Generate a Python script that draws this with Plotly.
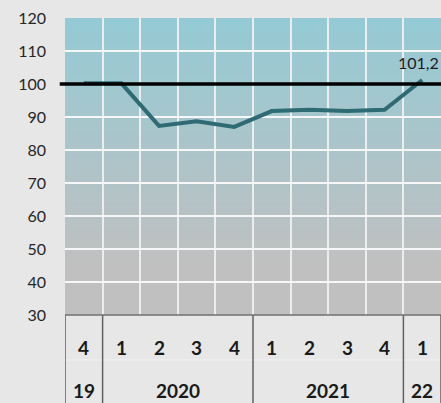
import plotly.graph_objects as go

# ---- data ----
quarters = ["4", "1", "2", "3", "4", "1", "2", "3", "4", "1"]
years = ["19", "2020", "2020", "2020", "2020", "2021", "2021", "2021", "2021", "22"]
values = [100.2, 100.2, 87.3, 88.7, 87.0, 91.8, 92.2, 91.8, 92.2, 101.2]
last_label = "101,2"
reference_level = 100
y_ticks = [30, 40, 50, 60, 70, 80, 90, 100, 110, 120]

cats = [f"{y} Q{q}" for y, q in zip(years, quarters)]
n = len(cats)

FONT = "Lato"
BG = "#E7E7E7"

fig = go.Figure()
fig.add_trace(go.Scatter(
    x=cats, y=values, mode="lines",
    line=dict(color="#2E6B74", width=4),
    hoverinfo="skip", showlegend=False,
))

shapes = []
# vertical gradient background of plot area
top_c = (148, 202, 213)
bot_c = (192, 192, 192)
y_lo, y_hi = 30, 120
g_end = 45
step = 1
yv = y_lo
while yv < y_hi:
    mid = yv + step / 2
    t = 0 if mid <= g_end else (mid - g_end) / (y_hi - g_end)
    c = tuple(round(b + (a - b) * t) for a, b in zip(top_c, bot_c))
    shapes.append(dict(type="rect", xref="paper", yref="y", x0=0, x1=1,
                       y0=yv, y1=min(yv + step * 2, y_hi), fillcolor=f"rgb{c}",
                       line=dict(width=0), layer="below"))
    yv += step

# reference line at 100
shapes.append(dict(type="line", xref="paper", yref="y", x0=-0.014, x1=1,
                   y0=reference_level, y1=reference_level,
                   line=dict(color="black", width=3.5), layer="above"))

plot_h = 403 - 18 - 88
bottom = -88 / plot_h

# table under the plot
shapes.append(dict(type="line", xref="paper", yref="paper", x0=0, x1=1,
                   y0=0, y1=0, line=dict(color="#707070", width=1.5)))
mid_y = -(360 - 315) / plot_h
shapes.append(dict(type="line", xref="paper", yref="paper", x0=0, x1=1,
                   y0=mid_y, y1=mid_y, line=dict(color="#F2F2F2", width=1)))

# group boundaries from years
bounds = [-0.5]
for i in range(1, n):
    if years[i] != years[i - 1]:
        bounds.append(i - 0.5)
bounds.append(n - 0.5)
for b in bounds:
    shapes.append(dict(type="line", xref="x", yref="paper", x0=b, x1=b,
                       y0=0, y1=bottom, line=dict(color="#606060", width=1.5)))

annotations = []
q_y = -(347 - 315) / plot_h
yr_y = -(390 - 315) / plot_h
for i, q in enumerate(quarters):
    annotations.append(dict(x=i, y=q_y, xref="x", yref="paper", text=f"<b>{q}</b>",
                            showarrow=False, yanchor="middle",
                            font=dict(family=FONT, size=19, color="#1a1a1a")))
for a, b in zip(bounds[:-1], bounds[1:]):
    idx = int(a + 0.5)
    annotations.append(dict(x=(a + b) / 2, y=yr_y, xref="x", yref="paper",
                            text=f"<b>{years[idx]}</b>", showarrow=False,
                            yanchor="middle",
                            font=dict(family=FONT, size=19, color="#1a1a1a")))
annotations.append(dict(x=cats[-1], y=values[-1], xref="x", yref="y",
                        text=last_label, showarrow=False, xshift=-4, yshift=18,
                        font=dict(family=FONT, size=16, color="#1a1a1a")))

fig.update_layout(
    width=441, height=403,
    margin=dict(l=65, r=0, t=18, b=88, autoexpand=False),
    paper_bgcolor=BG, plot_bgcolor=BG,
    shapes=shapes, annotations=annotations,
    xaxis=dict(type="category", range=[-0.5, n - 0.5], tickson="boundaries",
               showticklabels=False, ticks="", showgrid=True,
               gridcolor="#EDEDED", gridwidth=2, zeroline=False, showline=False,
               fixedrange=True, automargin=False),
    yaxis=dict(range=[y_lo, y_hi], tickvals=y_ticks, showgrid=True,
               gridcolor="#F7F7F7", gridwidth=2, zeroline=False, showline=False,
               ticks="", ticklabelstandoff=18, automargin=False,
               tickfont=dict(family=FONT, size=16, color="#262626"),
               fixedrange=True),
)

fig.write_html("out.html", config={"displayModeBar": False},
               post_script="document.body.style.margin='0';document.body.style.overflow='hidden';")
